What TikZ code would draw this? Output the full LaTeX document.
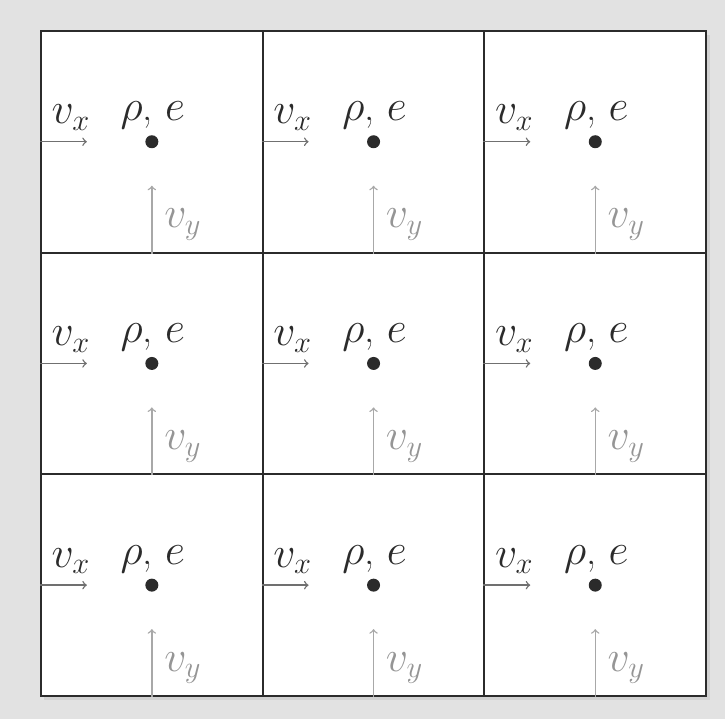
\documentclass[tikz,border=0pt]{standalone}
\usetikzlibrary{positioning,shadows}

\definecolor{bggray}{HTML}{E2E2E2}
\definecolor{ink}{HTML}{2B2B2B}
\definecolor{vxgray}{HTML}{707070}
\definecolor{vygray}{HTML}{A8A8A8}
\definecolor{vytext}{HTML}{959595}

\begin{document}
\begin{tikzpicture}[
        cell/.style={
            rectangle,
            draw=ink,
            fill=white,
            line width=1.1pt,
            minimum size=4.434cm,
            inner sep=0pt
        },
        dot/.style={
            circle,
            fill=ink,
            inner sep=0pt,
            minimum size=2.6mm
        },
        lbl/.style={
            inner sep=0pt,
            anchor=base,
            font=\fontsize{23}{27}\selectfont
        },
        flow/.style={->, line width=0.8pt}
    ]
        % sfondo e ombra della griglia
        \fill[bggray] (-0.82,-0.46) rectangle (13.68,13.92);
        \useasboundingbox (-0.82,-0.46) rectangle (13.68,13.92);
        \fill[black!18] (0.06,-0.08) rectangle (13.38,13.22);

        % celle: c<colonna><riga>, riga 1 in basso
        \foreach \i in {1,2,3} {
            \foreach \j in {1,2,3} {
                \node[cell] (c\i\j) at ({(\i-0.5)*4.434},{(\j-0.5)*4.434}) {};
            }
        }

        % grandezze in ogni cella
        \foreach \i in {1,2,3} {
            \foreach \j in {1,2,3} {
                \node[dot] (d\i\j) at (c\i\j.center) {};
                \node[lbl, text=ink] (re\i\j) at ([xshift=0.02cm, yshift=0.42cm]c\i\j.center) {$\rho$, $e$};
                \node[lbl, text=ink] (vx\i\j) at ([xshift=-1.62cm, yshift=0.36cm]c\i\j.center) {$v_x$};
                \node[lbl, text=vytext] (vy\i\j) at ([xshift=0.62cm, yshift=-1.72cm]c\i\j.center) {$v_y$};
                \coordinate (ax\i\j) at ([xshift=-1.30cm]c\i\j.center);
                \coordinate (ay\i\j) at ([yshift=-0.88cm]c\i\j.center);
                \draw[flow, vxgray] (c\i\j.west) -- (ax\i\j);
                \draw[flow, vygray] (c\i\j.south) -- (ay\i\j);
            }
        }
    \end{tikzpicture}
\end{document}
